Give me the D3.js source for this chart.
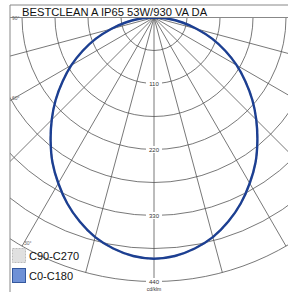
<!DOCTYPE html>
<html>
<head>
<meta charset="utf-8">
<script src="https://cdn.jsdelivr.net/npm/d3@7"></script>
<style>
  html, body { margin: 0; padding: 0; background: #fff; }
  svg { display: block; font-family: "Liberation Sans", Arial, sans-serif; }
</style>
</head>
<body>
<div id="chart"></div>
<script>
// title and legend
const title = "BESTCLEAN A IP65 53W/930 VA DA";
const seriesNames = ["C90-C270", "C0-C180"];

// gamma angles (deg, 0 = nadir, negative = left side)
const angles = [-90, -85, -80, -75, -70, -65, -60, -55, -50, -45, -40, -35, -30, -25, -20, -15, -10, -5,
  0, 5, 10, 15, 20, 25, 30, 35, 40, 45, 50, 55, 60, 65, 70, 75, 80, 85, 90];

// cd/klm
const c0c180 = [0, 24, 48, 74, 103, 131, 159, 186, 214, 241, 268, 295, 319, 342, 362, 379, 391, 399,
  402, 399, 391, 379, 362, 342, 319, 295, 268, 241, 214, 186, 159, 131, 103, 74, 48, 24, 0];
const c90c270 = [0, 24, 48, 74, 103, 131, 159, 186, 214, 241, 268, 295, 319, 342, 362, 379, 391, 399,
  402, 399, 391, 379, 362, 342, 319, 295, 268, 241, 214, 186, 159, 131, 103, 74, 48, 24, 0];

// grid
const rings = [55, 110, 165, 220, 275, 330, 385, 440];
const ringLabels = [110, 220, 330, 440];
const spokes = [-90, -75, -60, -45, -30, -15, 0, 15, 30, 45, 60, 75, 90];
const angleLabels = [90, 60, 30];

const W = 288, H = 292;
const cx = 154, cy = 17.5;
const frameX = 10, frameTop = 5;

const svg = d3.select("#chart").append("svg")
  .attr("width", W).attr("height", H);

const r = d3.scaleLinear().domain([0, 440]).range([0, 264]);
const toRad = d => d * Math.PI / 180;

// clip to area below title bar, right of frame
svg.append("clipPath").attr("id", "plot")
  .append("rect").attr("x", frameX).attr("y", cy).attr("width", W).attr("height", H);

const g = svg.append("g").attr("clip-path", "url(#plot)");
const p = g.append("g").attr("transform", `translate(${cx},${cy})`);

// rings
p.selectAll("circle.ring").data(rings).join("circle")
  .attr("class", "ring")
  .attr("r", d => r(d))
  .attr("fill", "none")
  .attr("stroke", "#555")
  .attr("stroke-width", 0.8);

// spokes
p.selectAll("line.spoke").data(spokes).join("line")
  .attr("x1", 0).attr("y1", 0)
  .attr("x2", d => r(440) * Math.sin(toRad(d)))
  .attr("y2", d => r(440) * Math.cos(toRad(d)))
  .attr("stroke", "#555")
  .attr("stroke-width", 0.8);

// curves
const line = d3.lineRadial()
  .angle(d => Math.PI - toRad(d[0]))
  .radius(d => r(d[1]))
  .curve(d3.curveCatmullRom);

p.append("path")
  .datum(angles.map((a, i) => [a, c90c270[i]]))
  .attr("d", line)
  .attr("fill", "none")
  .attr("stroke", "#c8c8c8")
  .attr("stroke-width", 2)
  .attr("stroke-dasharray", "4,2");

p.append("path")
  .datum(angles.map((a, i) => [a, c0c180[i]]))
  .attr("d", line)
  .attr("fill", "none")
  .attr("stroke", "#1c3f92")
  .attr("stroke-width", 2.4);

// ring labels on the vertical axis
const rl = p.selectAll("g.rl").data(ringLabels).join("g")
  .attr("transform", d => `translate(0,${r(d)})`);
rl.append("rect")
  .attr("x", -8).attr("y", -3.5).attr("width", 16).attr("height", 7)
  .attr("fill", "#fff");
rl.append("text")
  .attr("text-anchor", "middle")
  .attr("dy", "0.35em")
  .attr("font-size", 6)
  .attr("fill", "#333")
  .text(d => d);

svg.append("text")
  .attr("x", cx).attr("y", cy + r(440) + 9)
  .attr("text-anchor", "middle")
  .attr("font-size", 5)
  .attr("fill", "#333")
  .text("cd/klm");

// frame and title bar
svg.append("line").attr("x1", frameX).attr("x2", frameX).attr("y1", frameTop).attr("y2", H)
  .attr("stroke", "#888").attr("stroke-width", 1);
[frameTop, cy].forEach(y => svg.append("line")
  .attr("x1", frameX).attr("x2", W).attr("y1", y).attr("y2", y)
  .attr("stroke", "#888").attr("stroke-width", 1));

// angle labels on the left frame edge
angleLabels.forEach(a => {
  const t = toRad(a);
  let x = -r(440) * Math.sin(t), y = r(440) * Math.cos(t);
  if (cx + x < frameX) { y = (cx - frameX) / Math.tan(t); x = frameX - cx; }
  svg.append("text")
    .attr("x", cx + x + 2).attr("y", cy + y + (a === 90 ? 2 : -1))
    .attr("font-size", 5)
    .attr("fill", "#666")
    .text(a + "°");
});

svg.append("text")
  .attr("x", 22).attr("y", 15.5)
  .attr("font-size", 11.2)
  .attr("fill", "#111")
  .text(title);

// legend
const legend = svg.append("g").attr("transform", "translate(12,248)");
legend.append("rect")
  .attr("x", 0.5).attr("y", 0.5).attr("width", 13).attr("height", 14)
  .attr("fill", "#e0e0e0").attr("stroke", "#bbb").attr("stroke-dasharray", "2,1");
legend.append("rect")
  .attr("x", 0.5).attr("y", 20.5).attr("width", 13).attr("height", 14)
  .attr("fill", "#6f91d6").attr("stroke", "#34589e");
legend.selectAll("text").data(seriesNames).join("text")
  .attr("x", 17).attr("y", (d, i) => 12 + i * 20)
  .attr("font-size", 11)
  .attr("fill", "#111")
  .text(d => d);
</script>
</body>
</html>
